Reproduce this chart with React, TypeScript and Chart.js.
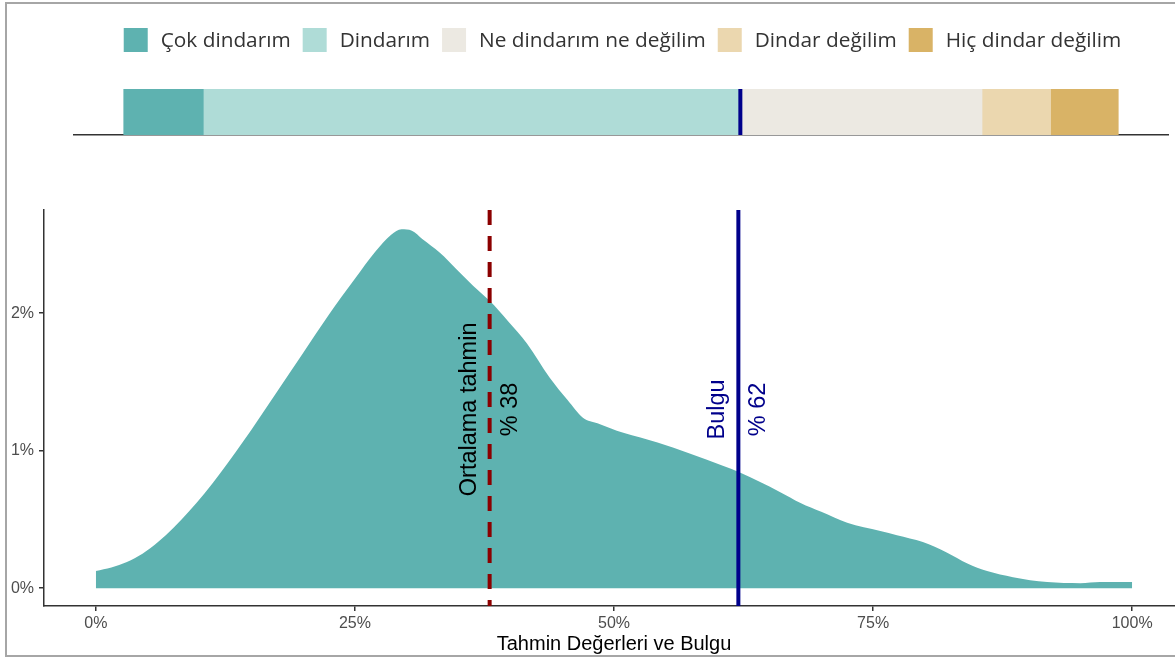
import React, { useEffect, useRef } from "react";
import { Chart, registerables } from "chart.js";

Chart.register(...registerables);

// ---- data ----
const GROUPS = [
  "Çok dindarım",
  "Dindarım",
  "Ne dindarım ne değilim",
  "Dindar değilim",
  "Hiç dindar değilim",
];
const GROUP_SHARES = [8.0, 54.0, 24.3, 6.9, 6.8];
const GROUP_COLORS = ["#5EB2B0", "#AFDCD7", "#ECE9E2", "#EBD7AF", "#D9B366"];

const DENS_X = [
  0, 1.5, 3, 4.5, 6, 7.5, 9, 10.5, 12, 13.5, 15, 17.5, 20, 22.5, 25, 27,
  28.5, 29.5, 30.5, 31.5, 33.2, 34.8, 36.4, 38, 39.8, 41.6, 43.8, 45.5, 47,
  48.4, 50.9, 54.2, 57.3, 60.5, 62.2, 64, 66, 68, 70, 72.5, 75.7, 77.3,
  79.8, 82.1, 84.1, 86, 88.5, 91.8, 95, 96.9, 100,
];
const DENS_Y = [
  0.125, 0.15, 0.19, 0.25, 0.335, 0.44, 0.56, 0.69, 0.835, 0.99, 1.15, 1.43,
  1.71, 1.99, 2.25, 2.45, 2.57, 2.61, 2.6, 2.54, 2.44, 2.32, 2.2, 2.09, 1.94,
  1.78, 1.53, 1.37, 1.24, 1.2, 1.13, 1.06, 0.98, 0.89, 0.84, 0.775, 0.7, 0.62,
  0.555, 0.475, 0.415, 0.385, 0.335, 0.26, 0.18, 0.124, 0.08, 0.044, 0.036,
  0.044, 0.044,
];

const MEAN_GUESS = 38;
const FINDING = 62;
const MEAN_LABEL = ["Ortalama tahmin", "% 38"];
const FINDING_LABEL = ["Bulgu", "% 62"];
const LABEL_Y = 1.3;
const X_TICKS = [0, 25, 50, 75, 100];
const Y_TICKS = [0, 1, 2];
const X_TITLE = "Tahmin Değerleri ve Bulgu";
const X_MIN = -5;
const X_MAX = 105;
const Y_MIN = -0.13;
const Y_MAX = 2.75;

const TEAL = "#5EB2B0";
const DARKRED = "#8B0000";
const NAVY = "#00008B";
const AXIS = "#333333";

Chart.defaults.font.family = '"Liberation Sans", Arial, sans-serif';

const legendPlugin = {
  id: "customLegend",
  afterDraw(chart: any) {
    const ctx = chart.ctx;
    ctx.save();
    ctx.font = '20.8px "Open Sans"';
    const BOX = 24;
    const G1 = 13;
    const G2 = 12;
    const widths = GROUPS.map((t) => ctx.measureText(t).width);
    let x = chart.scales.x.getPixelForValue(0);
    const cy = 40;
    ctx.textBaseline = "middle";
    ctx.textAlign = "left";
    GROUPS.forEach((t, i) => {
      ctx.fillStyle = GROUP_COLORS[i];
      ctx.fillRect(x, cy - BOX / 2, BOX, BOX);
      ctx.fillStyle = "#333333";
      ctx.fillText(t, x + BOX + G1, cy + 1);
      x += BOX + G1 + widths[i] + G2;
    });
    ctx.restore();
  },
};

const barFindingPlugin = {
  id: "barFinding",
  afterDatasetsDraw(chart: any) {
    const { ctx, chartArea, scales } = chart;
    const px = scales.x.getPixelForValue(FINDING);
    ctx.save();
    ctx.strokeStyle = NAVY;
    ctx.lineWidth = 4;
    ctx.beginPath();
    ctx.moveTo(px, chartArea.top);
    ctx.lineTo(px, chartArea.bottom);
    ctx.stroke();
    ctx.restore();
  },
};

function drawRotLabel(chart: any, xv: number, yv: number, lines: string[], color: string) {
  const { ctx, scales } = chart;
  ctx.save();
  ctx.translate(scales.x.getPixelForValue(xv), scales.y.getPixelForValue(yv));
  ctx.rotate(-Math.PI / 2);
  ctx.font = '23.5px "Liberation Sans", Arial, sans-serif';
  ctx.fillStyle = color;
  ctx.textAlign = "center";
  ctx.textBaseline = "middle";
  lines.forEach((t, i) => ctx.fillText(t, 0, (i - (lines.length - 1) / 2) * 41));
  ctx.restore();
}

const labelPlugin = {
  id: "rotLabels",
  afterDatasetsDraw(chart: any) {
    drawRotLabel(chart, MEAN_GUESS, LABEL_Y, MEAN_LABEL, "#000000");
    drawRotLabel(chart, FINDING, LABEL_Y, FINDING_LABEL, NAVY);
  },
};

export default function App() {
  const topRef = useRef<HTMLCanvasElement>(null);
  const mainRef = useRef<HTMLCanvasElement>(null);

  useEffect(() => {
    const top = new Chart(topRef.current as HTMLCanvasElement, {
      type: "bar",
      data: {
        labels: [""],
        datasets: GROUPS.map((g, i) => ({
          label: g,
          data: [GROUP_SHARES[i]],
          backgroundColor: GROUP_COLORS[i],
          borderWidth: 0,
          barPercentage: 1,
          categoryPercentage: 1,
        })),
      },
      options: {
        indexAxis: "y",
        responsive: false,
        animation: false,
        events: [],
        layout: { padding: { left: 74, right: 7, top: 89, bottom: 15 } },
        scales: {
          x: {
            stacked: true,
            min: X_MIN,
            max: X_MAX,
            grid: { display: false, drawTicks: false },
            ticks: { display: false },
            border: { display: true, color: AXIS, width: 1.5 },
          },
          y: { stacked: true, display: false },
        },
        plugins: { legend: { display: false }, tooltip: { enabled: false } },
      } as any,
      plugins: [legendPlugin, barFindingPlugin],
    });

    const main = new Chart(mainRef.current as HTMLCanvasElement, {
      type: "line",
      data: {
        datasets: [
          {
            label: "mean",
            data: [
              { x: MEAN_GUESS, y: Y_MAX },
              { x: MEAN_GUESS, y: Y_MIN },
            ],
            borderColor: DARKRED,
            borderWidth: 4,
            borderDash: [15, 11],
            pointRadius: 0,
            fill: false,
            order: 1,
          },
          {
            label: "finding",
            data: [
              { x: FINDING, y: Y_MAX },
              { x: FINDING, y: Y_MIN },
            ],
            borderColor: NAVY,
            borderWidth: 4,
            pointRadius: 0,
            fill: false,
            order: 1,
          },
          {
            label: "density",
            data: DENS_X.map((x, i) => ({ x, y: DENS_Y[i] })),
            borderWidth: 0,
            borderColor: TEAL,
            backgroundColor: TEAL,
            fill: "origin",
            pointRadius: 0,
            cubicInterpolationMode: "monotone",
            order: 2,
          },
        ],
      },
      options: {
        responsive: false,
        animation: false,
        events: [],
        layout: { padding: { left: 0, right: 6, top: 60, bottom: 0 } },
        scales: {
          x: {
            type: "linear",
            min: X_MIN,
            max: X_MAX,
            afterBuildTicks: (s: any) => {
              s.ticks = X_TICKS.map((v) => ({ value: v }));
            },
            afterFit: (s: any) => {
              s.height = 55;
            },
            grid: {
              display: true,
              drawOnChartArea: false,
              drawTicks: true,
              tickLength: 5,
              color: AXIS,
              lineWidth: 1.5,
            },
            border: { display: true, color: AXIS, width: 1.5 },
            ticks: {
              callback: (v: any) => v + "%",
              color: "#4D4D4D",
              font: { size: 16 },
              padding: 3,
              maxRotation: 0,
              autoSkip: false,
            },
            title: {
              display: true,
              text: X_TITLE,
              color: "#000000",
              font: { size: 20 },
              padding: { top: 0, bottom: 5 },
            },
          },
          y: {
            type: "linear",
            min: Y_MIN,
            max: Y_MAX,
            afterBuildTicks: (s: any) => {
              s.ticks = Y_TICKS.map((v) => ({ value: v }));
            },
            afterFit: (s: any) => {
              s.width = 44;
            },
            grid: {
              display: true,
              drawOnChartArea: false,
              drawTicks: true,
              tickLength: 5,
              color: AXIS,
              lineWidth: 1.5,
            },
            border: { display: true, color: AXIS, width: 1.5 },
            ticks: {
              callback: (v: any) => v + "%",
              color: "#4D4D4D",
              font: { size: 16 },
              padding: 5,
            },
          },
        },
        plugins: { legend: { display: false }, tooltip: { enabled: false } },
      } as any,
      plugins: [labelPlugin],
    });

    return () => {
      top.destroy();
      main.destroy();
    };
  }, []);

  return (
    <div
      style={{
        position: "fixed",
        left: 0,
        top: 0,
        width: 1175,
        height: 661,
        overflow: "hidden",
        background: "#ffffff",
      }}
    >
      <canvas
        ref={topRef}
        width={1175}
        height={150}
        style={{ position: "absolute", left: 0, top: 0 }}
      />
      <canvas
        ref={mainRef}
        width={1190}
        height={511}
        style={{ position: "absolute", left: 0, top: 150 }}
      />
      <div
        style={{
          position: "absolute",
          left: 5,
          top: 2,
          width: 1200,
          height: 651,
          border: "2px solid #A6A6A6",
          pointerEvents: "none",
        }}
      />
    </div>
  );
}
